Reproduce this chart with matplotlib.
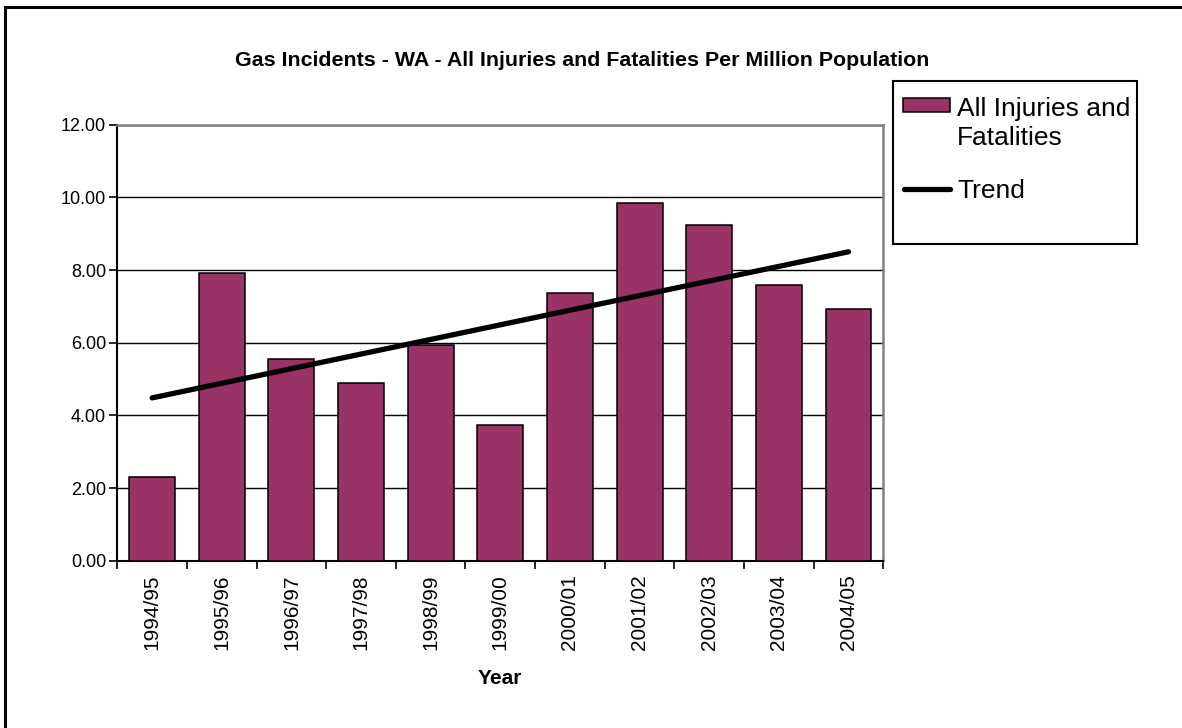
import numpy as np
import matplotlib
matplotlib.use('Agg')
import matplotlib.pyplot as plt
from matplotlib.patches import Rectangle
from matplotlib.lines import Line2D

plt.rcParams['font.family'] = ['Liberation Sans', 'DejaVu Sans']

# --- data ---
years = ['1994/95', '1995/96', '1996/97', '1997/98', '1998/99', '1999/00',
         '2000/01', '2001/02', '2002/03', '2003/04', '2004/05']
injuries = [2.31, 7.93, 5.56, 4.90, 5.95, 3.74, 7.38, 9.85, 9.25, 7.60, 6.94]
legend_labels = ['All Injuries and\nFatalities', 'Trend']

BAR_COLOR = '#993366'
W, H = 1182, 728


def fx(px):
    return px / W


def fy(py):
    return 1 - py / H


fig = plt.figure(figsize=(W / 100, H / 100), dpi=100)
ax = fig.add_axes([fx(117.3), fy(560.7), (883.3 - 117.3) / W, (560.7 - 124.7) / H])

x = np.arange(len(years))
ax.bar(x, injuries, width=0.66, color=BAR_COLOR, edgecolor='black', linewidth=1.1, zorder=3)

# linear trend, like Excel's trendline
slope, intercept = np.polyfit(x, injuries, 1)
ax.plot(x, slope * x + intercept, color='black', linewidth=3.8,
        solid_capstyle='round', zorder=4)

ax.set_xlim(-0.5, len(years) - 0.5)
ax.set_ylim(0, 12)
ax.set_yticks(np.arange(0, 12.01, 2))
ax.set_yticklabels([f'{v:.2f}' for v in np.arange(0, 12.01, 2)], fontsize=13)
ax.yaxis.grid(True, color='black', linewidth=1.0, zorder=1)
ax.set_axisbelow(True)

# category ticks sit between bars, labels at the bar centres
ax.set_xticks(np.arange(-0.5, len(years), 1.0))
ax.set_xticklabels([])
ax.set_xticks(x, minor=True)
ax.set_xticklabels(years, minor=True, rotation=90, fontsize=15)
ax.tick_params(axis='x', which='minor', length=0, pad=10)
ax.tick_params(axis='x', which='major', length=6, width=1.2, direction='out')
ax.tick_params(axis='y', length=6, width=1.2, direction='out', pad=2)

for side in ['left', 'bottom']:
    ax.spines[side].set_color('black')
    ax.spines[side].set_linewidth(1.5)
for side in ['top', 'right']:
    ax.spines[side].set_color('#808080')
    ax.spines[side].set_linewidth(1.8)

fig.text(fx(500), fy(678), 'Year', ha='center', va='center',
         fontsize=15, fontweight='bold')

fig.text(fx(582), fy(61), 'Gas Incidents - WA - All Injuries and Fatalities Per Million Population',
         ha='center', va='center', fontsize=15.4, fontweight='bold')

# legend, laid out by hand like the Excel one
fig.patches.append(Rectangle((fx(893.3), fy(244)), (1137.3 - 893.3) / W, (244 - 80.7) / H,
                             transform=fig.transFigure, fill=False, edgecolor='black',
                             linewidth=1.5))
fig.patches.append(Rectangle((fx(903), fy(112)), 47 / W, 14 / H, transform=fig.transFigure,
                             facecolor=BAR_COLOR, edgecolor='black', linewidth=1.1))
fig.text(fx(957), fy(97), legend_labels[0], ha='left', va='top', fontsize=19,
         linespacing=1.27)
fig.add_artist(Line2D([fx(904), fx(950)], [fy(189), fy(189)], transform=fig.transFigure,
                      color='black', linewidth=3.8, solid_capstyle='round'))
fig.text(fx(957), fy(191), legend_labels[1], ha='left', va='center', fontsize=19)

# outer chart border (only top and left edges visible)
fig.patches.append(Rectangle((fx(4.5), -0.2), 1.5, 1.2 - 6.5 / H, transform=fig.transFigure,
                             fill=False, edgecolor='black', linewidth=2.2))

fig.savefig('out.png', dpi=100)
